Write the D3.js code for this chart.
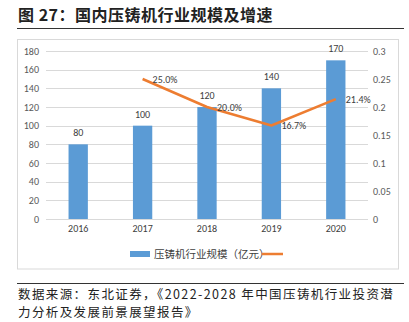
<!DOCTYPE html>
<html>
<head>
<meta charset="utf-8">
<script src="https://cdn.jsdelivr.net/npm/d3@7"></script>
<style>
  body { margin: 0; background: #fff; }
  svg { display: block; }
</style>
</head>
<body>
<div id="chart"></div>
<script>
// chart data
var years = ["2016", "2017", "2018", "2019", "2020"];
var scale = [80, 100, 120, 140, 170];
var growth = [null, 0.25, 0.20, 0.167, 0.214];
var leftTicks = [0, 20, 40, 60, 80, 100, 120, 140, 160, 180];
var rightTicks = [0, 0.05, 0.1, 0.15, 0.2, 0.25, 0.3];
var barName = "压铸机行业规模（亿元）";

var W = 409, H = 322;
var m = {left: 46, right: 41, top: 51, bottom: 103};
var cjk = "'Noto Sans CJK SC', sans-serif";
var latin = "Calibri, 'Carlito', 'Liberation Sans', 'Noto Sans', sans-serif";

var svg = d3.select("#chart").append("svg").attr("width", W).attr("height", H);

// title + rules
svg.append("text").attr("x", 18).attr("y", 21)
  .style("font-family", cjk).style("font-size", "16px").style("font-weight", "bold")
  .style("letter-spacing", "0.5px")
  .attr("fill", "#222").text("图 27：国内压铸机行业规模及增速");
svg.append("line").attr("x1", 17).attr("x2", 404).attr("y1", 28.5).attr("y2", 28.5)
  .attr("stroke", "#333").attr("stroke-width", 1);
svg.append("rect").attr("x", 17.5).attr("y", 39.5).attr("width", 381).attr("height", 229.5)
  .attr("fill", "none").attr("stroke", "#d9d9d9");
svg.append("line").attr("x1", 17).attr("x2", 404).attr("y1", 283.5).attr("y2", 283.5)
  .attr("stroke", "#333").attr("stroke-width", 1);

var x = d3.scaleBand().domain(years).range([m.left, W - m.right]).paddingInner(0.7).paddingOuter(0.35);
var y = d3.scaleLinear().domain([0, 180]).range([H - m.bottom, m.top]);
var y2 = d3.scaleLinear().domain([0, 0.3]).range([H - m.bottom, m.top]);

// grid
svg.append("g").selectAll("line").data(leftTicks).join("line")
  .attr("x1", m.left).attr("x2", W - m.right)
  .attr("y1", function(d){ return Math.round(y(d)) + 0.5; })
  .attr("y2", function(d){ return Math.round(y(d)) + 0.5; })
  .attr("stroke", "#d9d9d9");

// left axis
var ga = svg.append("g").attr("transform", "translate(" + (m.left - 7) + ",0)")
  .call(d3.axisLeft(y).tickValues(leftTicks).tickSize(0).tickPadding(0));
ga.select(".domain").remove();
ga.selectAll("text").style("font-family", latin).style("font-size", "10px").attr("fill", "#595959");

// right axis
var gr = svg.append("g").attr("transform", "translate(" + (W - m.right + 5) + ",0)")
  .call(d3.axisRight(y2).tickValues(rightTicks).tickSize(0).tickPadding(0)
    .tickFormat(function(d){ return d === 0 ? "0" : String(+d.toFixed(2)); }));
gr.select(".domain").remove();
gr.selectAll("text").style("font-family", latin).style("font-size", "10px").attr("fill", "#595959");

// x axis labels
var gx = svg.append("g").attr("transform", "translate(0," + (H - m.bottom + 6) + ")")
  .call(d3.axisBottom(x).tickSize(0).tickPadding(0));
gx.select(".domain").remove();
gx.selectAll("text").style("font-family", latin).style("font-size", "10px").attr("fill", "#404040");

// bars
svg.append("g").selectAll("rect").data(scale).join("rect")
  .attr("x", function(d, i){ return x(years[i]); })
  .attr("y", function(d){ return y(d); })
  .attr("width", x.bandwidth())
  .attr("height", function(d){ return y(0) - y(d); })
  .attr("fill", "#5b9bd5");

svg.append("g").selectAll("text").data(scale).join("text")
  .attr("x", function(d, i){ return x(years[i]) + x.bandwidth() / 2; })
  .attr("y", function(d){ return y(d) - 8; })
  .attr("text-anchor", "middle")
  .style("font-family", latin).style("font-size", "10px").attr("fill", "#404040")
  .text(function(d){ return d; });

// growth line
var pts = growth.map(function(g, i){ return {g: g, yr: years[i]}; }).filter(function(p){ return p.g !== null; });
var line = d3.line()
  .x(function(p){ return x(p.yr) + x.bandwidth() / 2; })
  .y(function(p){ return y2(p.g); });
svg.append("path").datum(pts).attr("d", line)
  .attr("fill", "none").attr("stroke", "#ed7d31").attr("stroke-width", 2.5).attr("stroke-linejoin", "round");

svg.append("g").selectAll("text").data(pts).join("text")
  .attr("x", function(p){ return x(p.yr) + x.bandwidth() / 2 + 10; })
  .attr("y", function(p){ return y2(p.g) + 4; })
  .style("font-family", latin).style("font-size", "10px").attr("fill", "#404040")
  .text(function(p){ return d3.format(".1%")(p.g); });

// legend
var lg = svg.append("g").attr("transform", "translate(130,254)");
lg.append("rect").attr("x", 0).attr("y", -3).attr("width", 20).attr("height", 6).attr("fill", "#5b9bd5");
lg.append("text").attr("x", 24).attr("y", 4)
  .style("font-family", cjk).style("font-size", "10.5px").attr("fill", "#404040").text(barName);
lg.append("line").attr("x1", 132).attr("x2", 153).attr("y1", 0).attr("y2", 0)
  .attr("stroke", "#ed7d31").attr("stroke-width", 2.5);

// source
svg.append("text").attr("x", 18).attr("y", 298.5)
  .style("font-family", cjk).style("font-size", "12.5px").style("letter-spacing", "1.4px").attr("fill", "#222")
  .text("数据来源：东北证券，《2022-2028 年中国压铸机行业投资潜");
svg.append("text").attr("x", 18).attr("y", 317)
  .style("font-family", cjk).style("font-size", "12.5px").style("letter-spacing", "1.4px").attr("fill", "#222")
  .text("力分析及发展前景展望报告》");
</script>
</body>
</html>
